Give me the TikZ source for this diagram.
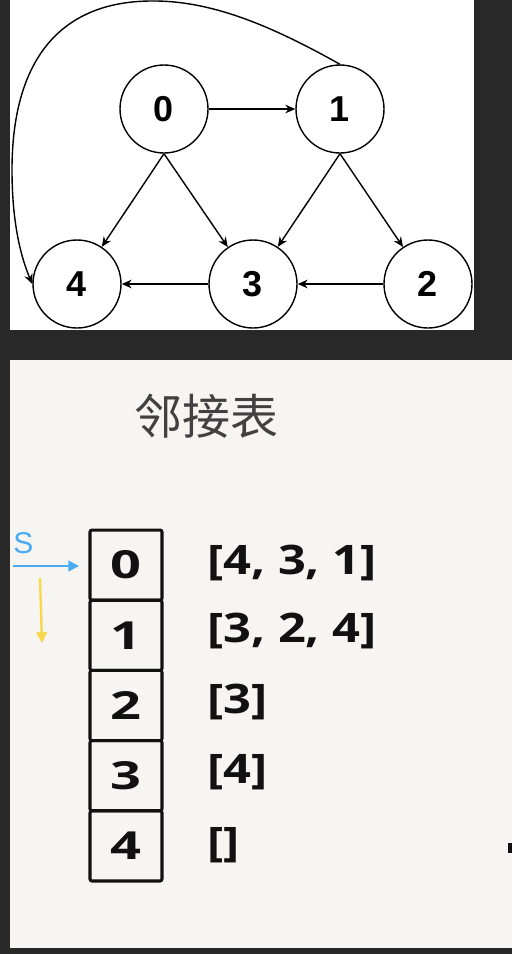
\documentclass[tikz,border=0pt]{standalone}
\usepackage{fontspec}
\usetikzlibrary{arrows.meta}
\newfontfamily\glab{Liberation Sans}
\newfontfamily\lst[FakeStretch=1.2]{Open Sans}
\newfontfamily\cellf[FakeStretch=1.4]{Open Sans}
\newfontfamily\cjk{Noto Sans CJK SC}
\definecolor{darkbg}{HTML}{282828}
\definecolor{paper}{HTML}{F7F5F2}
\definecolor{sblue}{HTML}{4AAAF2}
\definecolor{syellow}{HTML}{F6D84A}
\definecolor{ink}{HTML}{111111}
\tikzset{
  vert/.style={circle,draw=black,line width=1.05pt,fill=white,minimum size=66pt,inner sep=0pt,font=\glab\bfseries\fontsize{27}{28}\selectfont},
  edge/.style={line width=1.05pt,-{Stealth[length=7.5pt,width=6.5pt,inset=2.5pt]}},
  cell/.style={rectangle,draw=ink,line width=2.3pt,rounded corners=1.5pt,minimum width=54pt,minimum height=52.6pt,inner sep=0pt,font=\cellf\bfseries\fontsize{29}{30}\selectfont,text=ink},
  lsttxt/.style={anchor=west,inner sep=0pt,font=\lst\bfseries\fontsize{30.5}{31}\selectfont,text=ink},
  ptr/.style={line width=1.6pt,-{Triangle[length=8pt,width=8pt]}}
}
\begin{document}
\begin{tikzpicture}[x=0.75pt,y=-0.75pt]
\useasboundingbox (0,0) rectangle (512,954);
\fill[darkbg] (0,0) rectangle (512,954);
\fill[white] (10,0) rectangle (474,330);
\fill[paper] (10,360) rectangle (512,948);
% graph
\node[vert] (n0) at (164,109) {0};
\node[vert] (n1) at (340,109) {1};
\node[vert] (n4) at (77,284) {4};
\node[vert] (n3) at (253,284) {3};
\node[vert] (n2) at (428,284) {2};
\draw[edge] (n0) -- (n1);
\draw[edge] (n0.south) -- (n4);
\draw[edge] (n0.south) -- (n3);
\draw[edge] (n1.south) -- (n3);
\draw[edge] (n1.south) -- (n2);
\draw[edge] (n3) -- (n4);
\draw[edge] (n2) -- (n3);
\draw[edge] (n1.north) .. controls (270,25) and (210,0) .. (150,1)
  .. controls (60,2) and (12,60) .. (12,170)
  .. controls (12,220) and (20,255) .. (n4.west);
% adjacency list
\node[text=ink!80,font=\cjk\fontsize{36}{37}\selectfont,inner sep=0pt] (title) at (206,416) {邻接表};
\node[cell] (b0) at (126,565.1) {0};
\node[cell] (b1) at (126,635.3) {1};
\node[cell] (b2) at (126,705.5) {2};
\node[cell] (b3) at (126,775.7) {3};
\node[cell] (b4) at (126,845.9) {4};
\node[lsttxt] (l0) at (207,563) {[4, 3, 1]};
\node[lsttxt] (l1) at (207,631) {[3, 2, 4]};
\node[lsttxt] (l2) at (207,702) {[3]};
\node[lsttxt] (l3) at (207,772) {[4]};
\node[lsttxt] (l4) at (207,845) {[]};
\node[text=sblue,font=\glab\fontsize{22.5}{23}\selectfont,inner sep=0pt] (s) at (23.5,543) {S};
\coordinate (sa) at (13,566);
\coordinate (sb) at (79,566);
\draw[ptr,sblue] (sa) -- (sb);
\coordinate (ya) at (40,578);
\coordinate (yb) at (42,643);
\draw[ptr,syellow,line width=1.8pt] (ya) -- (yb);
\fill[ink] (508,843) rectangle (512,853);
\end{tikzpicture}
\end{document}
